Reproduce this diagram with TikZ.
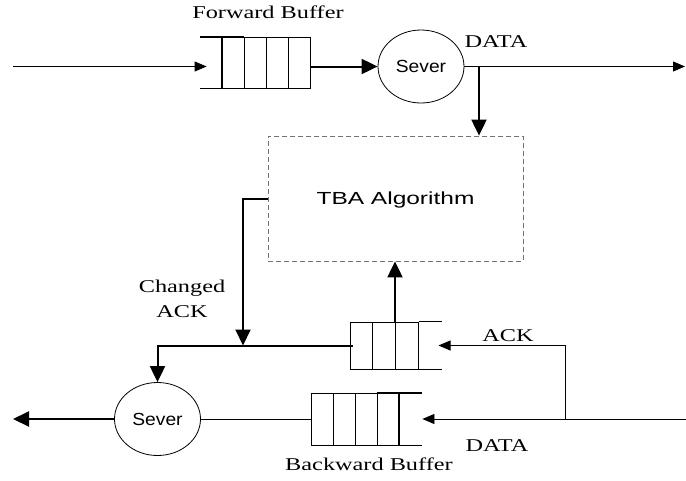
\documentclass[tikz,border=0pt]{standalone}
\usepackage{fontspec}
\usetikzlibrary{arrows.meta,shapes.geometric}
\newfontfamily\lblfont[FakeStretch=1.35]{Liberation Serif}
\newfontfamily\tbafont[FakeStretch=1.4]{Liberation Sans}
\newfontfamily\sevfont[FakeStretch=1.1]{Liberation Sans}
\definecolor{boxgray}{RGB}{115,115,115}
\tikzset{
  lbl/.style={font=\lblfont\fontsize{18}{25}\selectfont,inner sep=0pt,anchor=base},
  sever/.style={ellipse,draw,minimum width=86pt,minimum height=73pt,inner sep=0pt,
    font=\sevfont\fontsize{17.5}{20}\selectfont},
  cell/.style={draw,inner sep=0pt,minimum width=22pt},
  tbabox/.style={draw=boxgray,dashed,dash pattern=on 5pt off 3pt,minimum width=255pt,
    minimum height=125pt,text depth=0pt,font=\tbafont\fontsize{17.5}{20}\selectfont},
  arr/.style={-{Triangle[length=12pt,width=10pt]}},
  bigarr/.style={line width=2pt,-{Triangle[length=16pt,width=15pt]}}
}
\begin{document}
\begin{tikzpicture}[x=1pt,y=-1pt,line width=0.8pt]
  \useasboundingbox (0,0) rectangle (686,480);

  % forward path
  \foreach \i in {1,...,4}
    \node[cell,minimum height=51pt] (fb\i) at ({222+22*(\i-0.5)},62.5) {};
  \draw (fb1.south west) -- ++(-22,0);
  \draw[line width=2pt] (fb1.north west) -- (fb1.south west);
  \draw[line width=2pt] (fb1.north east) -- ++(-44,0);
  \node[lbl] (fwdlbl) at (268,18) {Forward Buffer};

  \node[sever] (s1) at (421,66.5) {Sever};
  \node[lbl] (data1) at (496,47) {DATA};
  \coordinate (in) at (13,66.5);
  \coordinate (out) at (685,66.5);
  \coordinate (tap) at (479,66.5);
  \draw[arr,shorten >=15pt] (in) -- (in -| fb1.west);
  \draw[bigarr] (s1.west -| fb4.east) -- (s1.west);
  \draw[arr] (s1.east) -- (out);

  \node[tbabox] (tba) at (395.5,198.5) {TBA Algorithm};
  \draw[bigarr] (tap) -- (tap |- tba.north);

  % backward path
  \foreach \i in {1,...,3}
    \node[cell,minimum width=22.7pt,minimum height=47pt] (ab\i) at ({350+22.7*(\i-0.5)},345.5) {};
  \draw (ab3.north east) -- ++(23,0);
  \draw (ab3.south east) -- ++(23,0);

  \foreach \i in {1,...,4}
    \node[cell,minimum height=52pt] (bb\i) at ({311+22*(\i-0.5)},419) {};
  \draw (bb4.south east) -- ++(23,0);
  \draw[line width=2pt] (bb4.north east) -- (bb4.south east);
  \draw[line width=2pt] (bb4.north west) -- ++(45,0);
  \node[lbl] (bwdlbl) at (369,470) {Backward Buffer};

  \node[sever] (s2) at (157.5,419) {Sever};
  \coordinate (din) at (686,419);
  \coordinate (split) at (565,419);
  \coordinate (bout) at (13,419);
  \coordinate (join) at (243,345.5);
  \draw[arr,shorten >=23pt] (din) -- (bb4.east);
  \draw[arr,shorten >=20pt] (split) |- (ab3.east);
  \draw (bb1.west) -- (s2.east);
  \draw[bigarr] (s2.west) -- (bout);
  \node[lbl] (acklbl) at (508,341) {ACK};
  \node[lbl] (data2) at (497,451) {DATA};

  \draw[bigarr] (ab3.north west) -- (ab3.north west |- tba.south);
  \draw[bigarr] ([xshift=3pt]ab1.west) -| (s2.north);
  \draw[bigarr] (tba.west) -| (join);
  \node[lbl,align=center] (chglbl) at (182,317) {Changed\\ACK};
\end{tikzpicture}
\end{document}
